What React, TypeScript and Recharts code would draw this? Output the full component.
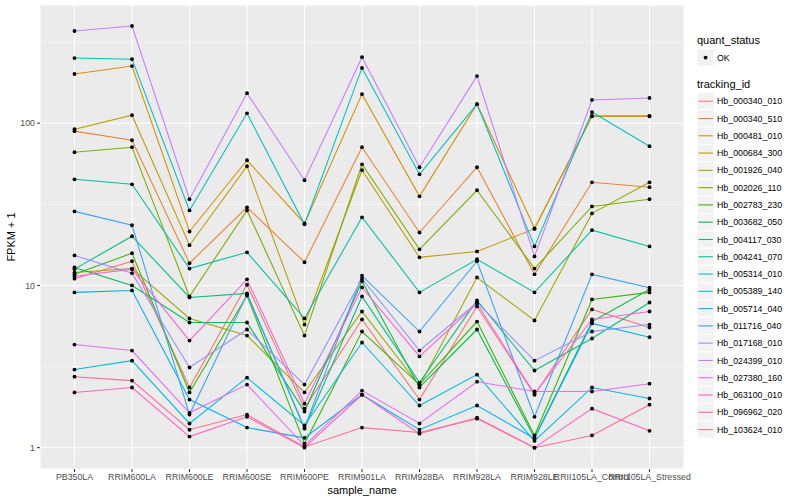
import React from "react";
import { LineChart, Line, XAxis, YAxis, CartesianGrid, ReferenceLine } from "recharts";

const samples = [
  "PB350LA",
  "RRIM600LA",
  "RRIM600LE",
  "RRIM600SE",
  "RRIM600PE",
  "RRIM901LA",
  "RRIM928BA",
  "RRIM928LA",
  "RRIM928LE",
  "RRII105LA_Control",
  "RRII105LA_Stressed",
];

const trackingIds = [
  "Hb_000340_010",
  "Hb_000340_510",
  "Hb_000481_010",
  "Hb_000684_300",
  "Hb_001926_040",
  "Hb_002026_110",
  "Hb_002783_230",
  "Hb_003682_050",
  "Hb_004117_030",
  "Hb_004241_070",
  "Hb_005314_010",
  "Hb_005389_140",
  "Hb_005714_040",
  "Hb_011716_040",
  "Hb_017168_010",
  "Hb_024399_010",
  "Hb_027380_160",
  "Hb_063100_010",
  "Hb_096962_020",
  "Hb_103624_010",
];

// ggplot hue palette, 20 levels
const colours = [
  "#F8766D", "#EA8331", "#D89000", "#C09B00", "#A3A500",
  "#7CAE00", "#39B600", "#00BB4E", "#00BF7D", "#00C1A3",
  "#00BFC4", "#00BAE0", "#00B0F6", "#35A2FF", "#9590FF",
  "#C77CFF", "#E76BF3", "#FA62DB", "#FF62BC", "#FF6C91",
];

// FPKM + 1, one value per sample
const hb000340_010 = [11.0, 14.1, 2.35, 10.1, 1.74, 6.17, 1.98, 7.42, 2.12, 7.11, 5.5];
const hb000340_510 = [89.3, 78.5, 13.7, 30.3, 13.9, 71.1, 21.2, 53.5, 11.7, 43.2, 40.3];
const hb000481_010 = [201, 225, 21.5, 59.1, 24.1, 151, 35.4, 131, 22.5, 110, 110];
const hb000684_300 = [91.8, 112, 17.7, 54.3, 5.74, 51.3, 14.9, 16.2, 22.3, 111, 111];
const hb001926_040 = [12.0, 12.7, 6.26, 4.91, 2.19, 6.91, 2.41, 11.2, 6.08, 27.8, 43.2];
const hb002026_110 = [66.2, 71.1, 8.55, 29.0, 4.91, 55.8, 16.7, 38.6, 12.7, 30.7, 34.0];
const hb002783_230 = [11.7, 15.8, 2.19, 8.67, 1.06, 5.2, 2.45, 5.99, 1.19, 8.2, 9.06];
const hb003682_050 = [12.9, 10.0, 5.91, 5.91, 1.67, 10.6, 2.35, 5.35, 1.15, 5.99, 9.45];
const hb004117_030 = [12.6, 20.1, 8.43, 8.93, 1.31, 8.55, 2.52, 8.08, 2.99, 4.71, 7.85];
const hb004241_070 = [45.1, 42.0, 12.7, 16.0, 6.26, 26.3, 9.06, 14.5, 9.06, 21.9, 17.4];
const hb005314_010 = [252, 248, 29.0, 115, 23.8, 219, 48.4, 131, 17.4, 117, 72.1];
const hb005389_140 = [3.03, 3.44, 1.41, 2.7, 1.37, 4.45, 1.82, 2.82, 1.1, 2.35, 2.01];
const hb005714_040 = [9.06, 9.31, 1.98, 1.33, 1.15, 2.12, 1.29, 1.82, 1.14, 5.83, 4.8];
const hb011716_040 = [28.6, 23.5, 1.6, 8.8, 1.33, 11.5, 5.2, 14.1, 1.55, 11.7, 9.68];
const hb017168_010 = [15.3, 11.9, 3.12, 5.35, 2.45, 11.0, 3.97, 7.85, 3.44, 5.2, 5.74];
const hb024399_010 = [370, 397, 34.0, 153, 44.5, 255, 53.5, 195, 15.1, 139, 143];
const hb027380_160 = [4.32, 3.97, 1.64, 2.45, 1.03, 2.25, 1.41, 2.55, 2.22, 2.22, 2.48];
const hb063100_010 = [11.4, 12.6, 4.57, 10.9, 1.87, 9.72, 3.65, 7.74, 2.15, 6.17, 6.91];
const hb096962_020 = [2.19, 2.35, 1.17, 1.55, 1.0, 2.12, 1.22, 1.53, 1.0, 1.74, 1.27];
const hb103624_010 = [2.74, 2.59, 1.29, 1.6, 1.01, 1.33, 1.24, 1.51, 1.0, 1.19, 1.84];

const seriesValues = [
  hb000340_010, hb000340_510, hb000481_010, hb000684_300, hb001926_040,
  hb002026_110, hb002783_230, hb003682_050, hb004117_030, hb004241_070,
  hb005314_010, hb005389_140, hb005714_040, hb011716_040, hb017168_010,
  hb024399_010, hb027380_160, hb063100_010, hb096962_020, hb103624_010,
];

const yTicks = [1, 10, 100];
const minorBreaks = [3.162, 31.62, 316.2];

const data = samples.map((s, i) => {
  const row: Record<string, string | number> = { sample: s };
  trackingIds.forEach((id, k) => {
    row[id] = seriesValues[k][i];
  });
  return row;
});

const FONT = "'Liberation Sans', Arial, Helvetica, sans-serif";

const Legend = () => {
  const keyStep = 17.28;
  const firstKeyTop = 92.6;
  return (
    <svg
      width={800}
      height={500}
      style={{ position: "absolute", left: 0, top: 0, pointerEvents: "none" }}
      fontFamily={FONT}
    >
      <text x={697} y={44} fontSize={11} fill="#000">quant_status</text>
      <rect x={697} y={49} width={17.28} height={17.28} fill="#F2F2F2" stroke="#fff" />
      <circle cx={705.6} cy={57.6} r={1.9} fill="#000" />
      <text x={717} y={60.8} fontSize={8.8} fill="#000">OK</text>

      <text x={697} y={87.5} fontSize={11} fill="#000">tracking_id</text>
      {trackingIds.map((id, k) => {
        const top = firstKeyTop + k * keyStep;
        const cy = top + keyStep / 2;
        return (
          <g key={id}>
            <rect x={697} y={top} width={17.28} height={17.28} fill="#F2F2F2" stroke="#fff" />
            <line x1={698.5} x2={712.8} y1={cy} y2={cy} stroke={colours[k]} strokeWidth={1.1} />
            <text x={717} y={cy + 3.1} fontSize={8.8} fill="#000">{id}</text>
          </g>
        );
      })}

      <text x={362} y={494} fontSize={11} fill="#000" textAnchor="middle">sample_name</text>
      <text
        x={0}
        y={0}
        fontSize={11}
        fill="#000"
        textAnchor="middle"
        transform="translate(15,237) rotate(-90)"
      >
        FPKM + 1
      </text>
    </svg>
  );
};

export default function App() {
  return (
    <div style={{ position: "absolute", left: 0, top: 0, width: 800, height: 500, background: "#fff", fontFamily: FONT }}>
      <LineChart
        width={800}
        height={500}
        data={data}
        margin={{ top: 5, right: 116, bottom: 0, left: 0 }}
      >
        <CartesianGrid fill="#EBEBEB" stroke="#FFFFFF" strokeWidth={1.07} />
        {minorBreaks.map((b) => (
          <ReferenceLine key={b} y={b} stroke="#FFFFFF" strokeWidth={0.53} />
        ))}
        <XAxis
          dataKey="sample"
          height={31}
          padding={{ left: 34.5, right: 34.5 }}
          interval={0}
          axisLine={false}
          tickSize={3}
          tickMargin={2}
          tickLine={{ stroke: "#333333" }}
          tick={{ fill: "#4D4D4D", fontSize: 8.8, fontFamily: FONT }}
        />
        <YAxis
          type="number"
          scale="log"
          domain={[0.739, 535]}
          allowDataOverflow
          ticks={yTicks}
          width={40}
          axisLine={false}
          tickSize={3}
          tickMargin={2}
          tickLine={{ stroke: "#333333" }}
          tick={{ fill: "#4D4D4D", fontSize: 8.8, fontFamily: FONT }}
        />
        {trackingIds.map((id, k) => (
          <Line
            key={id}
            type="linear"
            dataKey={id}
            stroke={colours[k]}
            strokeWidth={1.07}
            dot={false}
            activeDot={false}
            isAnimationActive={false}
          />
        ))}
        {trackingIds.map((id) => (
          <Line
            key={id + "_pt"}
            type="linear"
            dataKey={id}
            stroke="none"
            dot={{ r: 1.9, fill: "#000", stroke: "none" }}
            activeDot={false}
            legendType="none"
            isAnimationActive={false}
          />
        ))}
      </LineChart>
      <Legend />
    </div>
  );
}
